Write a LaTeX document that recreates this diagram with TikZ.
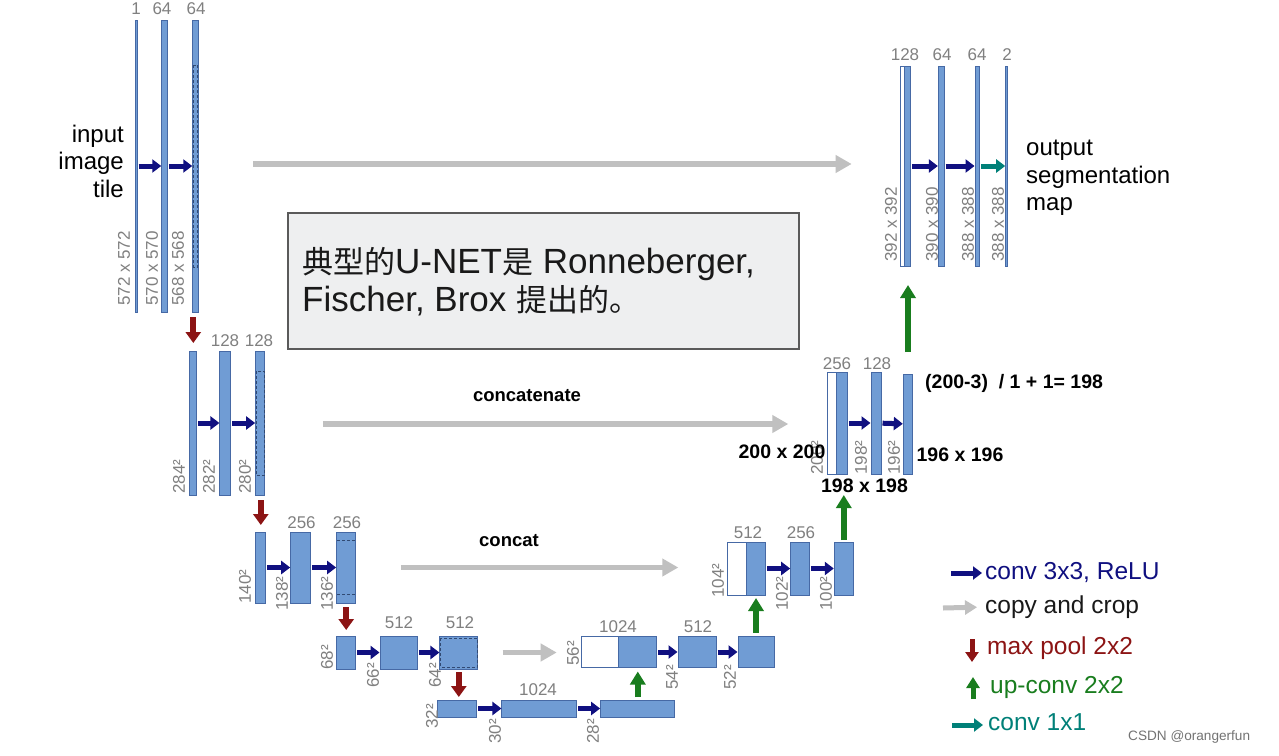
\documentclass[tikz,border=0pt]{standalone}
\usepackage{fontspec}
\setmainfont{Liberation Sans}
\newfontfamily\cjk{Noto Sans CJK SC}
\usetikzlibrary{arrows.meta}
\definecolor{barfill}{RGB}{112,156,212}
\definecolor{bardraw}{RGB}{70,105,165}
\definecolor{convc}{RGB}{16,16,128}
\definecolor{copyc}{RGB}{192,192,192}
\definecolor{poolc}{RGB}{140,20,20}
\definecolor{upc}{RGB}{25,125,30}
\definecolor{onec}{RGB}{0,128,120}
\definecolor{lblc}{RGB}{128,128,128}
\definecolor{boxfill}{RGB}{238,239,240}
\definecolor{boxdraw}{RGB}{90,90,90}
\tikzset{
  bar/.style={draw=bardraw, fill=barfill, line width=1pt, inner sep=0pt, outer sep=0pt},
  wbar/.style={draw=bardraw, fill=white, line width=1pt, inner sep=0pt, outer sep=0pt},
  conv/.style={-{Triangle[length=9pt,width=13pt]}, line width=5pt, draw=convc, shorten <=1.5pt, shorten >=0.5pt},
  onec/.style={-{Triangle[length=9pt,width=13pt]}, line width=5pt, draw=onec, shorten <=1.5pt, shorten >=0.5pt},
  copyarr/.style={-{Triangle[length=16pt,width=17pt]}, line width=5.5pt, draw=copyc},
  pool/.style={-{Triangle[length=11pt,width=15pt]}, line width=6pt, draw=poolc},
  upconv/.style={-{Triangle[length=13pt,width=15pt]}, line width=6pt, draw=upc},
  lbl/.style={text=lblc, font=\fontsize{17}{17}\selectfont, inner sep=0pt},
  rlbl/.style={lbl, rotate=90, anchor=west},
  cropd/.style={densely dashed, draw=bardraw!70!black, line width=0.8pt},
  annotx/.style={font=\bfseries\fontsize{19.5}{19.5}\selectfont, text=black, inner sep=0pt},
  catx/.style={font=\bfseries\fontsize{18.5}{18.5}\selectfont, text=black, inner sep=0pt},
  bigtxt/.style={font=\fontsize{24}{27.5}\selectfont, inner sep=0pt},
  legtxt/.style={font=\fontsize{24.5}{24.5}\selectfont, inner sep=0pt, anchor=west}
}
\begin{document}
\begin{tikzpicture}[x=1pt,y=-1pt]
\useasboundingbox (0,0) rectangle (1279,755);
\fill[white] (0,0) rectangle (1279,755);

% ---------- contracting level 1
\node[bar, minimum width=2pt, minimum height=292pt] (l1a) at (136,166) {};
\node[bar, minimum width=5.5pt, minimum height=292pt] (l1b) at (164.5,166) {};
\node[bar, minimum width=5.5pt, minimum height=292pt] (l1c) at (195.5,166) {};
\draw[cropd] (193.5,65) rectangle (197.5,267);
\node[lbl] (t11) at (136,9) {1};
\node[lbl] (t12) at (162,9) {64};
\node[lbl] (t13) at (196,9) {64};
\node[rlbl] (s11) at (124,306) {572 x 572};
\node[rlbl] (s12) at (152,306) {570 x 570};
\node[rlbl] (s13) at (178,306) {568 x 568};
\node[bigtxt, align=right, anchor=east] (inp) at (124,161) {input\\image\\tile};

% ---------- contracting level 2
\node[bar, minimum width=6.7pt, minimum height=144pt] (l2a) at (193.3,423) {};
\node[bar, minimum width=10.7pt, minimum height=144pt] (l2b) at (225.3,423) {};
\node[bar, minimum width=9.3pt, minimum height=144pt] (l2c) at (260.3,423) {};
\draw[cropd] (256,371) rectangle (264.5,475);
\node[lbl] (t22) at (225,341) {128};
\node[lbl] (t23) at (259,341) {128};
\node[rlbl] (s21) at (179,494) {284²};
\node[rlbl] (s22) at (209,494) {282²};
\node[rlbl] (s23) at (245,494) {280²};

% ---------- contracting level 3
\node[bar, minimum width=9.7pt, minimum height=71pt] (l3a) at (260.8,567.5) {};
\node[bar, minimum width=20pt, minimum height=71pt] (l3b) at (300.7,567.5) {};
\node[bar, minimum width=19.3pt, minimum height=71pt] (l3c) at (346.3,567.5) {};
\draw[cropd] (337,540) -- (356,540);
\draw[cropd] (337,594) -- (356,594);
\node[lbl] (t32) at (301.5,523) {256};
\node[lbl] (t33) at (347,523) {256};
\node[rlbl] (s31) at (245,604) {140²};
\node[rlbl] (s32) at (282,611) {138²};
\node[rlbl] (s33) at (327,611) {136²};

% ---------- contracting level 4
\node[bar, minimum width=19pt, minimum height=33pt] (l4a) at (346.2,652.5) {};
\node[bar, minimum width=37.3pt, minimum height=33pt] (l4b) at (398.7,652.5) {};
\node[bar, minimum width=37.7pt, minimum height=33pt] (l4c) at (458.8,652.5) {};
\draw[cropd] (440.5,638) rectangle (477,667);
\node[lbl] (t42) at (399,623) {512};
\node[lbl] (t43) at (460,623) {512};
\node[rlbl] (s41) at (327,670) {68²};
\node[rlbl] (s42) at (373,688) {66²};
\node[rlbl] (s43) at (435,688) {64²};

% ---------- bottom level
\node[bar, minimum width=38.7pt, minimum height=17pt] (l5a) at (457.3,708.5) {};
\node[bar, minimum width=74.7pt, minimum height=17pt] (l5b) at (539.3,708.5) {};
\node[bar, minimum width=74.3pt, minimum height=17pt] (l5c) at (637.8,708.5) {};
\node[lbl] (t52) at (538,690) {1024};
\node[rlbl] (s51) at (432,729) {32²};
\node[rlbl] (s52) at (495,744) {30²};
\node[rlbl] (s53) at (593,744) {28²};

% ---------- expanding level 4
\node[wbar, minimum width=36.6pt, minimum height=31pt] (u4w) at (600,652) {};
\node[bar, minimum width=38.4pt, minimum height=31pt] (u4b) at (637.5,652) {};
\node[bar, minimum width=38pt, minimum height=31pt] (u4c) at (697,652) {};
\node[bar, minimum width=36pt, minimum height=31pt] (u4d) at (756,652) {};
\node[lbl] (t4u1) at (618,627) {1024};
\node[lbl] (t4u2) at (698,627) {512};
\node[rlbl] (s4u1) at (573,666) {56²};
\node[rlbl] (s4u2) at (672,690) {54²};
\node[rlbl] (s4u3) at (730,690) {52²};

% ---------- expanding level 3
\node[wbar, minimum width=19.4pt, minimum height=53pt] (u3w) at (737,568.5) {};
\node[bar, minimum width=19pt, minimum height=53pt] (u3b) at (756.2,568.5) {};
\node[bar, minimum width=18.6pt, minimum height=53pt] (u3c) at (800,568.5) {};
\node[bar, minimum width=19pt, minimum height=53pt] (u3d) at (843.8,568.5) {};
\node[lbl] (t3u1) at (748,533) {512};
\node[lbl] (t3u2) at (801,533) {256};
\node[rlbl] (s3u1) at (718,598) {104²};
\node[rlbl] (s3u2) at (782,611) {102²};
\node[rlbl] (s3u3) at (826,611) {100²};

% ---------- expanding level 2
\node[wbar, minimum width=9.4pt, minimum height=102pt] (u2w) at (832,423) {};
\node[bar, minimum width=10.6pt, minimum height=102pt] (u2b) at (842,423) {};
\node[bar, minimum width=10pt, minimum height=102pt] (u2c) at (876,423) {};
\node[bar, minimum width=9.4pt, minimum height=100pt] (u2d) at (908,424) {};
\node[lbl] (t2u1) at (837,364) {256};
\node[lbl] (t2u2) at (877,364) {128};
\node[rlbl] (s2u1) at (817,475) {200²};
\node[rlbl] (s2u2) at (861,475) {198²};
\node[rlbl] (s2u3) at (894,475) {196²};

% ---------- expanding level 1
\node[wbar, minimum width=4.3pt, minimum height=200pt] (u1w) at (902.8,166) {};
\node[bar, minimum width=5.7pt, minimum height=200pt] (u1b) at (907.8,166) {};
\node[bar, minimum width=5.7pt, minimum height=200pt] (u1c) at (941.2,166) {};
\node[bar, minimum width=4.3pt, minimum height=200pt] (u1d) at (977.2,166) {};
\node[bar, minimum width=2pt, minimum height=200pt] (u1e) at (1006.7,166) {};
\node[lbl] (t1u1) at (905,55) {128};
\node[lbl] (t1u2) at (942,55) {64};
\node[lbl] (t1u3) at (977,55) {64};
\node[lbl] (t1u4) at (1007,55) {2};
\node[rlbl] (s1u1) at (891,262) {392 x 392};
\node[rlbl] (s1u2) at (932,262) {390 x 390};
\node[rlbl] (s1u3) at (968,262) {388 x 388};
\node[rlbl] (s1u4) at (998,262) {388 x 388};
\node[bigtxt, align=left, anchor=west] (outp) at (1026,178) {output\\segmentation\\map};

% ---------- conv arrows
\draw[conv] (l1a) -- (l1b);
\draw[conv] (l1b) -- (l1c);
\draw[conv] (l2a) -- (l2b);
\draw[conv] (l2b) -- (l2c);
\draw[conv] (l3a) -- (l3b);
\draw[conv] (l3b) -- (l3c);
\draw[conv] (l4a) -- (l4b);
\draw[conv] (l4b) -- (l4c);
\draw[conv] (l5a) -- (l5b);
\draw[conv] (l5b) -- (l5c);
\draw[conv] (u4b) -- (u4c);
\draw[conv] (u4c) -- (u4d);
\draw[conv] (u3b) -- (u3c);
\draw[conv] (u3c) -- (u3d);
\draw[conv] (u2b) -- (u2c);
\draw[conv] (u2c) -- (u2d);
\draw[conv] (u1b) -- (u1c);
\draw[conv] (u1c) -- (u1d);
\draw[onec] (u1d) -- (u1e);

% ---------- max pool arrows
\draw[pool, shorten <=5pt, shorten >=8pt] (l1c.south -| l2a) -- (l2a.north);
\draw[pool, shorten <=5pt, shorten >=7pt] (l2c.south -| l3a) -- (l3a.north);
\draw[pool, shorten <=4pt, shorten >=6pt] (l3c.south -| l4a) -- (l4a.north);
\draw[pool, shorten <=3pt, shorten >=3pt] (l4c.south) -- (l4c.south |- l5a.north);

% ---------- up-conv arrows
\draw[upconv, shorten <=3pt, shorten >=4pt] (l5c.north) -- (l5c.north |- u4b.south);
\draw[upconv, shorten <=4pt, shorten >=3pt] (u4d.north) -- (u4d.north |- u3b.south);
\draw[upconv, shorten <=2pt, shorten >=21pt] (u3d.north) -- (u3d.north |- u2b.south);
\draw[upconv, shorten <=22pt, shorten >=19pt] (u2d.north) -- (u2d.north |- u1b.south);

% ---------- copy and crop arrows
\draw[copyarr, shorten <=55pt, shorten >=49pt] ([yshift=2pt]l1c.east) -- ([yshift=2pt]l1c.east -| u1w.west);
\draw[copyarr, shorten <=58pt, shorten >=39pt] ([yshift=-1pt]l2c.east) -- ([yshift=-1pt]l2c.east -| u2w.west);
\draw[copyarr, shorten <=45pt, shorten >=49pt] (l3c.east) -- (l3c.east -| u3w.west);
\draw[copyarr, shorten <=25pt, shorten >=25pt] (l4c.east) -- (l4c.east -| u4w.west);

% ---------- text box
\node[draw=boxdraw, fill=boxfill, line width=1.3pt, minimum width=511pt, minimum height=136pt, inner sep=0pt] (box) at (543.5,281) {};
\node[anchor=west, align=left, inner sep=0pt, text=black!90, font=\fontsize{35}{38}\selectfont] (boxtxt) at (302,282)
  {{\cjk\fontsize{31}{38}\selectfont 典型的}U-NET{\cjk\fontsize{31}{38}\selectfont 是} Ronneberger,\\Fischer, Brox {\cjk\fontsize{31}{38}\selectfont 提出的。}};

% ---------- annotations
\node[catx] (cat1) at (527,396) {concatenate};
\node[catx] (cat2) at (509,541) {concat};
\node[annotx, anchor=west] (an1) at (925,383) {(200-3)~ / 1 + 1= 198};
\node[annotx] (an2) at (782,452) {200 x 200};
\node[annotx] (an3) at (864.5,486) {198 x 198};
\node[annotx] (an4) at (960,455) {196 x 196};

% ---------- legend
\node[legtxt, text=convc] (lg1) at (985,573) {conv 3x3, ReLU};
\node[legtxt, text=black!90] (lg2) at (985,607) {copy and crop};
\node[legtxt, text=poolc] (lg3) at (987,648) {max pool 2x2};
\node[legtxt, text=upc] (lg4) at (990,687) {up-conv 2x2};
\node[legtxt, text=onec] (lg5) at (988,722) {conv 1x1};
\coordinate (lg1s) at (951,573);
\coordinate (lg2s) at (943,608);
\coordinate (lg3s) at (972,639);
\coordinate (lg3e) at (972,662);
\coordinate (lg4s) at (973,699);
\coordinate (lg4e) at (973,677);
\coordinate (lg5s) at (952,725);
\draw[conv, shorten <=0pt, shorten >=3pt] (lg1s) -- (lg1.west);
\draw[copyarr, line width=5pt, -{Triangle[length=12pt,width=14pt]}, shorten >=8pt] (lg2s) -- (lg2.west);
\draw[pool, line width=5pt, -{Triangle[length=10pt,width=13pt]}] (lg3s) -- (lg3e);
\draw[upconv, line width=5pt, -{Triangle[length=11pt,width=13pt]}] (lg4s) -- (lg4e);
\draw[onec, shorten <=0pt, shorten >=5pt] (lg5s) -- (lg5s -| lg5.west);

\node[anchor=west, inner sep=0pt, text=black!55, font=\fontsize{13.6}{13.6}\selectfont] (csdn) at (1128,737) {CSDN @orangerfun};
\end{tikzpicture}
\end{document}
